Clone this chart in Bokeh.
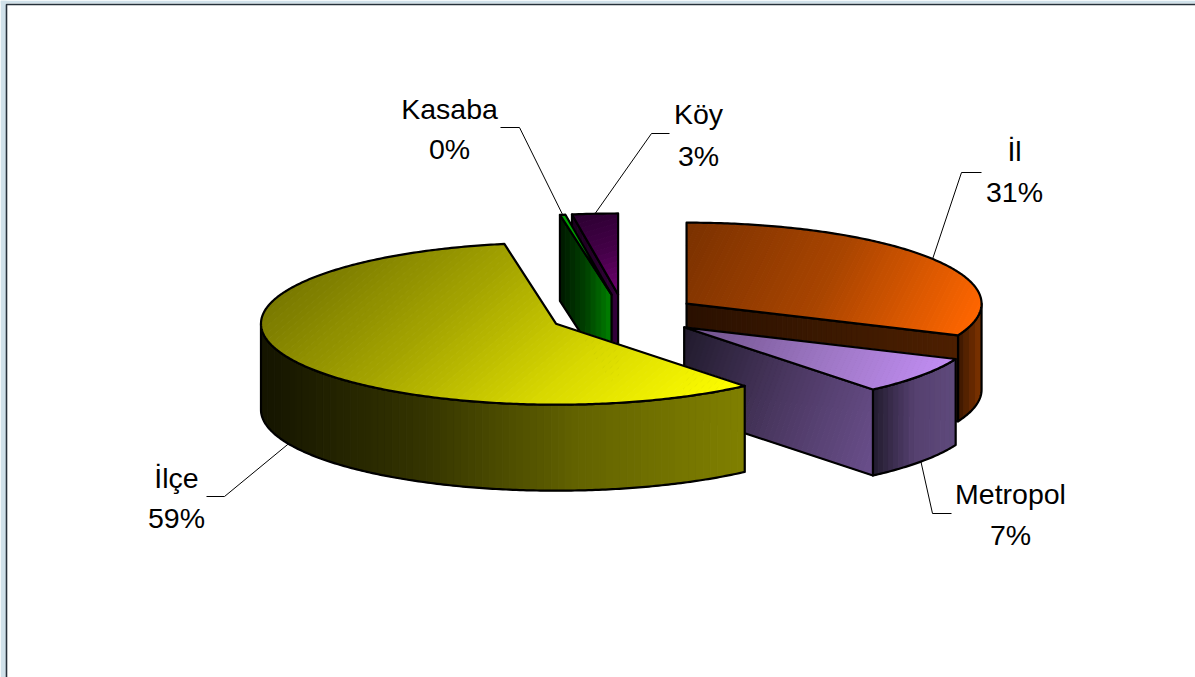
import math
from bokeh.plotting import figure
from bokeh.embed import file_html
from bokeh.resources import INLINE
from bokeh.core.properties import value

# ---- data ----
names = ["İl", "Metropol", "İlçe", "Kasaba", "Köy"]
# slice sizes as measured on the drawn (foreshortened) pie
shares = [31.4, 7.55, 58.25, 0.3, 2.5]
# percentages as printed on the chart
pct_labels = ["31%", "7%", "59%", "0%", "3%"]

# ---- layout of the 3D pie (page pixels) ----
W, H = 1195, 677
CX, CY, RX, RY = 623.5, 314.5, 295.0, 81.0
EXPLODE, DEPTH = 75.0, 86.0
label_x = [1014, 1010, 176, 449, 698]
label_y = [150, 493, 477, 108, 113]
line_gap = [41, 41, 40, 40, 42]
elbow_x = [961, 932, 224, 519, 651]
elbow_y = [172, 513, 496, 127, 133]
stub_x = [981, 951, 206, 500, 669]

# ---- gradient styles: (direction, colour stops) ----
styles = {
    "İl": dict(top=((1, .5), ["#7a3100", "#a84400", "#ff6600"]),
               side=((1, 0), ["#3a1700", "#7f3300"]),
               cut=((1, 0), ["#2a1000", "#3a1800", "#4d1f00"])),
    "Metropol": dict(top=((1, .45), ["#6d5088", "#9a74c0", "#c38ff5"]),
                     side=((1, 0), ["#211b2e", "#55406f", "#5f4a7c"]),
                     cut=((1, .35), ["#201a2c", "#4a3760", "#6a4f8c"])),
    "İlçe": dict(top=((1, 1.2), ["#787800", "#a4a400", "#d8d800", "#ffff00"]),
                 side=((1, 0), ["#141400", "#343400", "#646400", "#808000"]),
                 cut=None),
    "Kasaba": dict(top=((0, 1), ["#00a000", "#00a000"]),
                   side=None,
                   cut=((1, 0), ["#001800", "#004000", "#008000"])),
    "Köy": dict(top=((.3, 1), ["#2a0030", "#440048", "#700070"]),
                side=None,
                cut=((1, 0), ["#1a001c", "#33003a"])),
}


def hex_rgb(h):
    return [int(h[i:i + 2], 16) for i in (1, 3, 5)]


def mix(stops, f):
    f = max(0.0, min(1.0, f)) * (len(stops) - 1)
    i = min(int(f), len(stops) - 2)
    a, b = hex_rgb(stops[i]), hex_rgb(stops[i + 1])
    k = f - i
    return "#%02x%02x%02x" % tuple(round(a[j] + (b[j] - a[j]) * k) for j in range(3))


def clip(poly, d, lim, keep_above):
    out = []
    n = len(poly)
    for i in range(n):
        a, b = poly[i], poly[(i + 1) % n]
        sa = a[0] * d[0] + a[1] * d[1] - lim
        sb = b[0] * d[0] + b[1] * d[1] - lim
        if not keep_above:
            sa, sb = -sa, -sb
        if sa >= 0:
            out.append(a)
        if (sa >= 0) != (sb >= 0):
            k = sa / (sa - sb)
            out.append((a[0] + (b[0] - a[0]) * k, a[1] + (b[1] - a[1]) * k))
    return out


def draw_layers(layers):
    """Painter's-order faces: gradient bands, then the black outline."""
    for poly, style in layers:
        d, stops = style
        L = math.hypot(*d)
        d = (d[0] / L, d[1] / L)
        pr = [q[0] * d[0] + q[1] * d[1] for q in poly]
        lo, hi = min(pr), max(pr)
        n = max(2, min(70, int(hi - lo) // 5))
        xs, ys, cs = [], [], []
        for i in range(n):
            a, b = lo + (hi - lo) * i / n, lo + (hi - lo) * (i + 1) / n
            c = clip(clip(poly, d, a, True), d, b, False)
            if len(c) >= 3:
                xs.append([q[0] for q in c])
                ys.append([q[1] for q in c])
                cs.append(mix(stops, (i + .5) / n))
        p.patches(xs, ys, fill_color=cs, line_color=cs, line_width=1)
        p.patches([[q[0] for q in poly]], [[q[1] for q in poly]], fill_color=None,
                  line_color="black", line_width=2.2, line_join="round")


p = figure(width=W, height=H, x_range=(0, W), y_range=(H, 0), output_backend="svg",
           toolbar_location=None, min_border=0, background_fill_color="white",
           border_fill_color="white", outline_line_color=None)
p.axis.visible = False
p.grid.visible = False

# window frame of the original screenshot
p.quad(left=[0, 0], right=[W, 6], top=[0, 0], bottom=[3, H], fill_color="#d0e1ea", line_color=None)
p.line([6, 6, W], [H, 4, 4], line_color="#26303a", line_width=1.6)

# angles: start at 12 o'clock, clockwise
total = sum(shares)
geom = {}
t = 90.0
for name, v in zip(names, shares):
    sweep = v / total * 360
    t0, t1 = t, t - sweep
    mid = math.radians((t0 + t1) / 2)
    tx = CX + EXPLODE * math.cos(mid)
    ty = CY - EXPLODE * RY / RX * math.sin(mid)
    geom[name] = (t0, t1, tx, ty)
    t = t1


def arc(name, a, b):
    _, _, tx, ty = geom[name]
    n = max(2, int(abs(a - b) * 1.5))
    return [(tx + RX * math.cos(math.radians(a + (b - a) * i / n)),
             ty - RY * math.sin(math.radians(a + (b - a) * i / n))) for i in range(n + 1)]


def down(pts):
    return [(x, y + DEPTH) for x, y in pts]


def faces(name):
    t0, t1, tx, ty = geom[name]
    st = styles[name]
    tip = (tx, ty)
    out = []
    if st["side"]:
        # visible part of the rim: only the front half (negative sine)
        a = min(t0, 0.0)
        b = max(t1, -180.0)
        top = arc(name, a, b)
        out.append((top + down(top)[::-1], st["side"]))
    if st["cut"]:
        e = arc(name, t0, t0)[0] if name in ("Kasaba", "Köy") else arc(name, t1, t1)[0]
        out.append(([tip, e, (e[0], e[1] + DEPTH), (tx, ty + DEPTH)], st["cut"]))
    out.append(([tip] + arc(name, t0, t1), st["top"]))
    return out


for name in ["Köy", "Kasaba", "İl", "Metropol", "İlçe"]:
    draw_layers(faces(name))

# leader lines and labels
for i, name in enumerate(names):
    t0, t1, tx, ty = geom[name]
    m = math.radians((t0 + t1) / 2)
    ax = tx + RX * math.cos(m)
    ay = ty - RY * math.sin(m)
    if math.sin(m) < 0:
        ay += DEPTH
    p.line([stub_x[i], elbow_x[i], ax], [elbow_y[i], elbow_y[i], ay],
           line_color="black", line_width=1)
    p.text([label_x[i], label_x[i]], [label_y[i], label_y[i] + line_gap[i]],
           text=[name, pct_labels[i]],
           text_font=value("Liberation Sans"), text_font_size="28.5px", text_color="black",
           text_align="center", text_baseline="middle")

html = file_html(p, INLINE)
html = html.replace("</head>", "<style>html,body{margin:0;padding:0;overflow:hidden}</style></head>")
open("out.html", "w").write(html)
